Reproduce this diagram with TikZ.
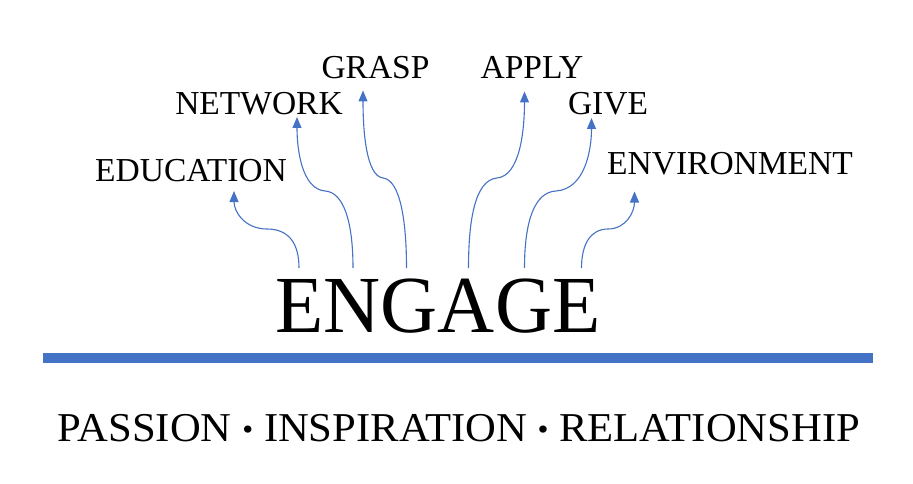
\documentclass[tikz,border=0pt]{standalone}
\usepackage{fontspec}
\setmainfont{Liberation Serif}
\usetikzlibrary{arrows.meta}
\definecolor{obl}{HTML}{4472C4}
\newcommand{\smbul}{{\fontsize{30}{30}\selectfont\raisebox{1.5pt}{•}}}
\begin{document}
\begin{tikzpicture}[x=1pt,y=-1pt,
  lbl/.style={anchor=base,inner sep=0pt,font=\fontsize{33.5}{40}\selectfont},
  conn/.style={draw=obl,line width=1.1pt,-{Triangle[length=11pt,width=9pt]}}]
\useasboundingbox (0,0) rectangle (913,484);
\node[anchor=base,inner sep=0pt,font=\fontsize{81}{90}\selectfont,xscale=0.975] (engage) at (438,332) {ENGAGE};
\node[lbl] (edu) at (191,181) {EDUCATION};
\node[lbl] (net) at (259,115) {NETWORK};
\node[lbl] (grasp) at (375.5,78.5) {GRASP};
\node[lbl] (apply) at (532,78.5) {APPLY};
\node[lbl] (give) at (608,115) {GIVE};
\node[lbl] (env) at (730,174.5) {ENVIRONMENT};
\node[anchor=base,inner sep=0pt,font=\fontsize{41}{48}\selectfont,xscale=1.04] (values) at (459,441) {PASSION \smbul{} INSPIRATION \smbul{} RELATIONSHIP};
\fill[obl] (43,353) rectangle (873,363);
% connector ends
\coordinate (b1) at (299,268); \coordinate (t1) at (234,191);
\coordinate (b2) at (353,268); \coordinate (t2) at (297,117);
\coordinate (b3) at (406.5,268); \coordinate (t3) at (363,90.5);
\coordinate (b4) at (468.5,268); \coordinate (t4) at (524.5,91.5);
\coordinate (b5) at (524.5,268); \coordinate (t5) at (591.5,118);
\coordinate (b6) at (581.5,268); \coordinate (t6) at (634.5,191.5);
\draw[conn] (b1) .. controls (299,245) and (290,229) .. (267,229) .. controls (245,229) and (234,212) .. (t1);
\draw[conn] (b2) .. controls (353,220) and (343,192) .. (325,191) .. controls (302,189) and (297,150) .. (t2);
\draw[conn] (b3) .. controls (406.5,220) and (400,180) .. (383,178) .. controls (366,176) and (363,130) .. (t3);
\draw[conn] (b4) .. controls (468.5,220) and (475,180) .. (497,178) .. controls (520,176) and (524.5,130) .. (t4);
\draw[conn] (b5) .. controls (524.5,220) and (535,192) .. (556,191) .. controls (585,189) and (591.5,150) .. (t5);
\draw[conn] (b6) .. controls (581.5,245) and (590,229) .. (608,229) .. controls (626,229) and (634.5,212) .. (t6);
\end{tikzpicture}
\end{document}
